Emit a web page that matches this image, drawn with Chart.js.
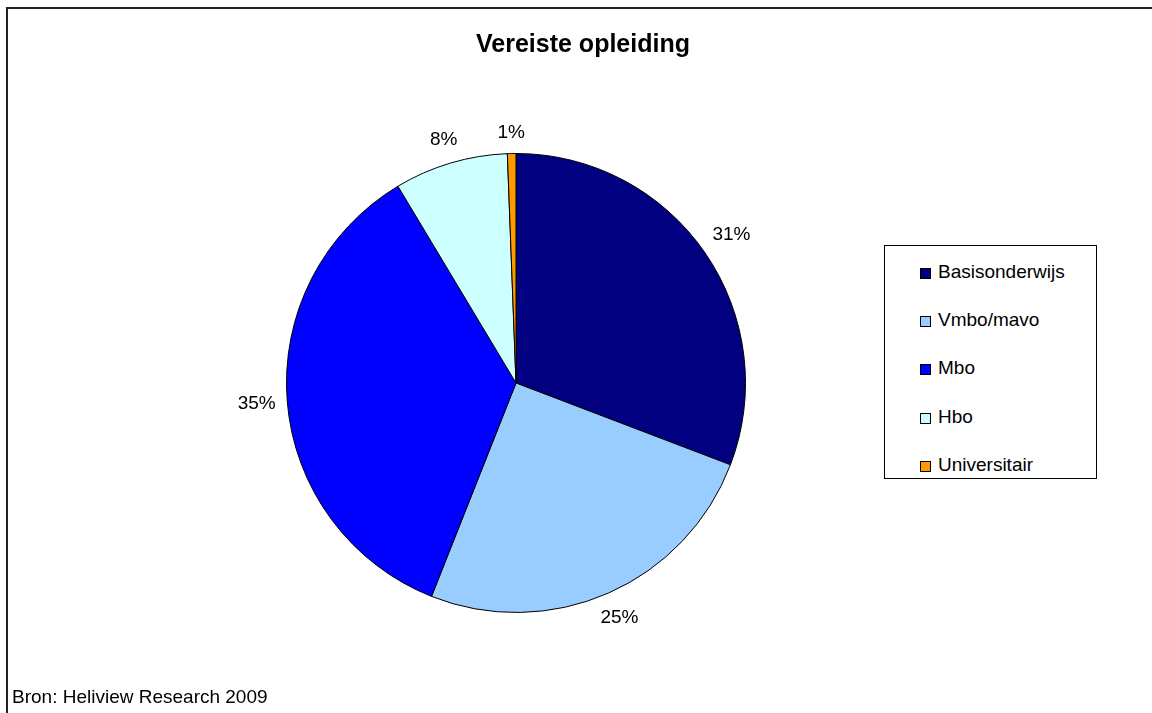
<!DOCTYPE html>
<html>
<head>
<meta charset="utf-8">
<script src="https://cdn.jsdelivr.net/npm/chart.js@4.4.0/dist/chart.umd.min.js"></script>
<style>
  html, body { margin: 0; padding: 0; background: #fff; }
  body { width: 1152px; height: 713px; position: relative; overflow: hidden; font-family: "Liberation Sans", Arial, sans-serif; }
  #frame { position: absolute; left: 6px; top: 7px; width: 1200px; height: 800px; border-left: 2px solid #222; border-top: 2px solid #222; box-sizing: border-box; }
  #wrap { position: absolute; left: 0; top: 0; width: 1152px; height: 713px; }
  #title { position: absolute; left: 0; width: 1166px; top: 31px; text-align: center; font-weight: bold; font-size: 25px; line-height: 25px; color: #000; }
  #source { position: absolute; left: 12px; top: 687px; font-size: 19px; line-height: 19px; color: #000; }
  #legend { position: absolute; left: 884px; top: 245px; width: 213px; height: 234px; border: 1px solid #000; box-sizing: border-box; background: #fff; }
  .item { position: absolute; left: 35px; height: 19px; font-size: 19px; line-height: 19px; color: #000; white-space: nowrap; }
  .sw { position: absolute; left: 0; top: 6px; width: 11px; height: 11px; border: 1px solid #000; box-sizing: border-box; }
  .lt { position: absolute; left: 18px; top: 0; }
</style>
</head>
<body>
<div id="frame"></div>
<div id="wrap"><canvas id="c" width="1152" height="713"></canvas></div>
<div id="title"></div>
<div id="source"></div>
<div id="legend"></div>
<script>
const titleText = "Vereiste opleiding";
const sourceText = "Bron: Heliview Research 2009";
const categories = ["Basisonderwijs", "Vmbo/mavo", "Mbo", "Hbo", "Universitair"];
const values = [30.8, 25.2, 35.4, 8.0, 0.6];
const colors = ["#000080", "#99CCFF", "#0000FF", "#CCFFFF", "#FF9900"];

document.getElementById('title').textContent = titleText;
document.getElementById('source').textContent = sourceText;

const legend = document.getElementById('legend');
categories.forEach((c, i) => {
  const it = document.createElement('div');
  it.className = 'item';
  it.style.top = (15.6 + 48.3 * i) + 'px';
  const sw = document.createElement('div');
  sw.className = 'sw';
  sw.style.background = colors[i];
  const t = document.createElement('span');
  t.className = 'lt';
  t.textContent = c;
  it.appendChild(sw); it.appendChild(t);
  legend.appendChild(it);
});

const total = values.reduce((a, b) => a + b, 0);

const labelPlugin = {
  id: 'pctLabels',
  afterDatasetsDraw(chart) {
    const ctx = chart.ctx;
    const meta = chart.getDatasetMeta(0);
    ctx.save();
    ctx.font = '19px "Liberation Sans", Arial, sans-serif';
    ctx.fillStyle = '#000';
    ctx.textAlign = 'center';
    ctx.textBaseline = 'middle';
    meta.data.forEach((arc, i) => {
      const p = arc.getProps(['x', 'y', 'startAngle', 'endAngle', 'outerRadius'], true);
      const mid = (p.startAngle + p.endAngle) / 2;
      const txt = Math.round(values[i] / total * 100) + '%';
      const w = ctx.measureText(txt).width;
      const h = 19;
      const cx = Math.cos(mid), cy = Math.sin(mid);
      const ext = Math.abs(cx) * w / 2 + Math.abs(cy) * h / 2;
      const d = p.outerRadius + 11 + ext;
      ctx.fillText(txt, p.x + cx * d, p.y + cy * d);
    });
    ctx.restore();
  }
};

new Chart(document.getElementById('c'), {
  type: 'pie',
  data: {
    labels: categories,
    datasets: [{
      data: values,
      backgroundColor: colors,
      borderColor: '#000',
      borderWidth: 1,
      hoverOffset: 0
    }]
  },
  options: {
    responsive: false,
    animation: false,
    events: [],
    layout: { padding: { left: 286, right: 406, top: 153, bottom: 100 } },
    plugins: {
      legend: { display: false },
      title: { display: false },
      tooltip: { enabled: false }
    }
  },
  plugins: [labelPlugin]
});
</script>
</body>
</html>
